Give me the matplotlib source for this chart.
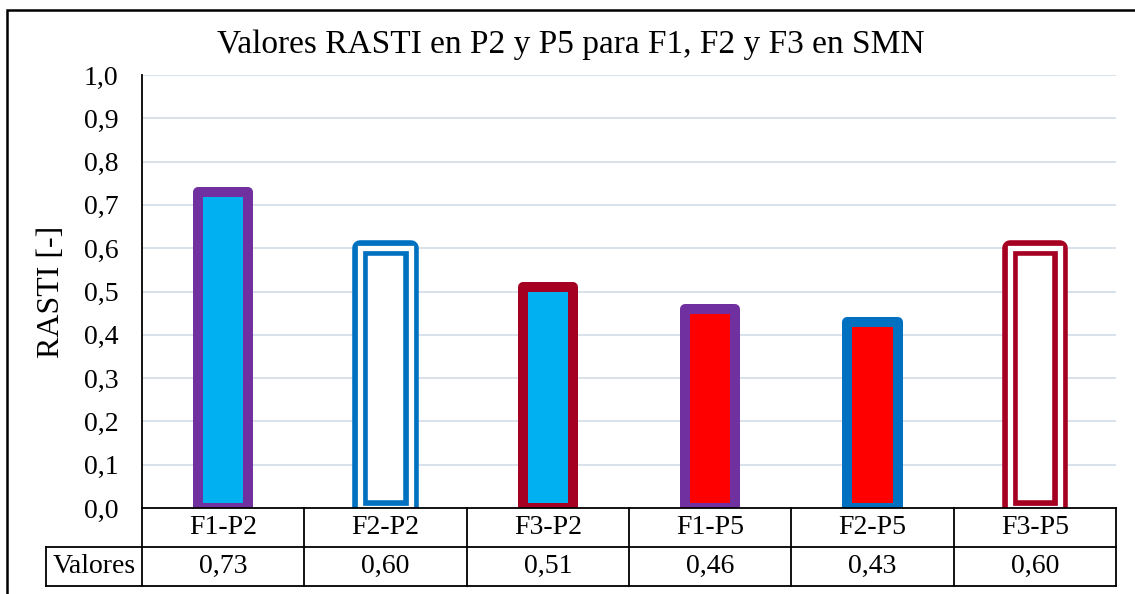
import matplotlib
matplotlib.use("Agg")
import matplotlib.pyplot as plt
import matplotlib.transforms as mtransforms
from matplotlib.patches import Rectangle

# Data
categories = ["F1-P2", "F2-P2", "F3-P2", "F1-P5", "F2-P5", "F3-P5"]
values = [0.73, 0.60, 0.51, 0.46, 0.43, 0.60]
yticks = [0.0, 0.1, 0.2, 0.3, 0.4, 0.5, 0.6, 0.7, 0.8, 0.9, 1.0]
row_label = "Valores"
title = "Valores RASTI en P2 y P5 para F1, F2 y F3 en SMN"
ylabel = "RASTI [-]"

# Styles
PURPLE = "#7030A0"
BLUE = "#0070C0"
DARKRED = "#A50021"
CYAN = "#00B0F0"
RED = "#FF0000"
fills = [CYAN, "white", CYAN, RED, RED, "white"]
edges = [PURPLE, BLUE, DARKRED, PURPLE, BLUE, DARKRED]
double = [False, True, False, False, False, True]

plt.rcParams["font.family"] = ["Liberation Serif", "DejaVu Serif"]
FS = 20

W, H = 1135, 594
fig = plt.figure(figsize=(W / 100, H / 100), dpi=100)
ax_l, ax_r, ax_t, ax_b = 142, 1116, 75, 508
ax = fig.add_axes([ax_l / W, 1 - ax_b / H, (ax_r - ax_l) / W, (ax_b - ax_t) / H])

x = list(range(len(categories)))
ax.set_xlim(-0.5, len(categories) - 0.5)
ax.set_ylim(0, 1.0)

bw = 0.31
for xi, v, fc, ec, dbl in zip(x, values, fills, edges, double):
    if dbl:
        ax.bar(xi, v, width=bw, facecolor="white", edgecolor=ec,
               linewidth=11.2, joinstyle="round", zorder=3)
        ax.bar(xi, v, width=bw, facecolor="none", edgecolor="white",
               linewidth=3.8, joinstyle="miter", zorder=4)
    else:
        ax.bar(xi, v, width=bw, facecolor=fc, edgecolor=ec,
               linewidth=7.2, joinstyle="round", zorder=3)

# Gridlines
for t in yticks[1:]:
    ax.axhline(t, color="#D5DEE8", linewidth=1.3, zorder=1)

ax.set_yticks(yticks)
ax.set_yticklabels([f"{t:.1f}".replace(".", ",") for t in yticks], fontsize=FS)
ax.tick_params(axis="y", length=0, pad=17)
ax.set_xticks([])
for s in ["top", "right", "bottom"]:
    ax.spines[s].set_visible(False)
ax.spines["left"].set_linewidth(1.3)

ax.set_ylabel(ylabel, fontsize=23, labelpad=13)

# Data table under the plot
trans = mtransforms.blended_transform_factory(ax.transData, ax.transAxes)
px = (ax_b - ax_t)
r1 = -39 / px
r2 = -78 / px
xmin, xmax = -0.5, len(categories) - 0.5
dpx = (xmax - xmin) / (ax_r - ax_l)
x_lab_left = xmin - (ax_l - 46) * dpx
lk = dict(color="black", linewidth=1.3, transform=trans, clip_on=False, zorder=5)
ax.plot([xmin, xmax], [0, 0], **lk)
ax.plot([x_lab_left, xmax], [r1, r1], **lk)
ax.plot([x_lab_left, xmax], [r2, r2], **lk)
ax.plot([x_lab_left, x_lab_left], [r1, r2], **lk)
for b in [xmin + i for i in range(len(categories) + 1)]:
    ax.plot([b, b], [0, r2], **lk)

for xi, c, v in zip(x, categories, values):
    ax.text(xi, r1 / 2, c, transform=trans, ha="center", va="center", fontsize=FS)
    ax.text(xi, (r1 + r2) / 2, f"{v:.2f}".replace(".", ","), transform=trans,
            ha="center", va="center", fontsize=FS)
ax.text((x_lab_left + xmin) / 2, (r1 + r2) / 2, row_label, transform=trans,
        ha="center", va="center", fontsize=FS)

fig.text(571 / W, 1 - 45 / H, title, ha="center", va="center", fontsize=24)

# Chart frame
fig.patches.append(Rectangle((7 / W, -0.2), 1.2, 1.2 - 10 / H,
                             transform=fig.transFigure, fill=False,
                             edgecolor="black", linewidth=1.8))

fig.savefig("out.png", dpi=100)
